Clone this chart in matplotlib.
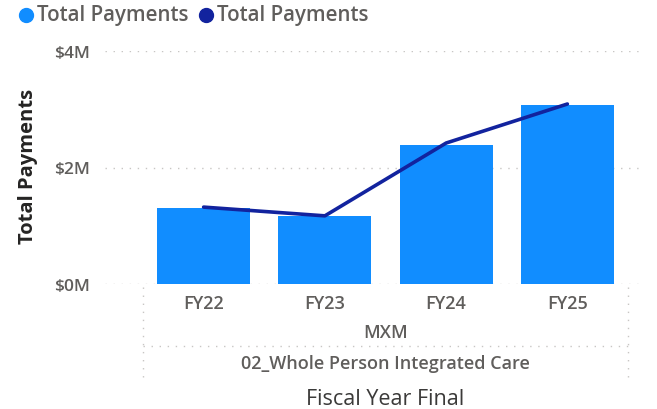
import matplotlib
matplotlib.use("Agg")
import matplotlib.pyplot as plt
from matplotlib.lines import Line2D
import matplotlib.transforms as mtransforms

# ---- data ----
categories = ["FY22", "FY23", "FY24", "FY25"]
bar_values = [1.30, 1.17, 2.38, 3.07]      # $M, Total Payments (bars)
line_values = [1.32, 1.17, 2.42, 3.09]     # $M, Total Payments (line)
y_ticks = [0, 2, 4]
y_tick_labels = ["$0M", "$2M", "$4M"]
level2_label = "MXM"
level3_label = "02_Whole Person Integrated Care"
x_title = "Fiscal Year Final"
y_title = "Total Payments"
legend_labels = ["Total Payments", "Total Payments"]

BAR_COLOR = "#118DFF"
LINE_COLOR = "#12239E"
TICK_COLOR = "#605E5C"
GRID_COLOR = "#C8C6C4"

plt.rcParams["font.family"] = ["Open Sans", "DejaVu Sans"]

W, H = 657, 410
fig = plt.figure(figsize=(W / 100, H / 100), dpi=100)

def fx(px):
    return px / W

def fy(py):
    return 1 - py / H

ax_left, ax_right, ax_top, ax_bottom = 105, 640, 52, 285
ax = fig.add_axes([fx(ax_left), fy(ax_bottom), fx(ax_right - ax_left), (ax_bottom - ax_top) / H])

x = list(range(len(categories)))
ax.bar(x, bar_values, width=0.767, color=BAR_COLOR, zorder=2)
ax.plot(x, line_values, color=LINE_COLOR, linewidth=2.6, solid_capstyle="round", zorder=3)

unit = 121.25
ax.set_xlim(-0.5 - (143 - ax_left) / unit, 3.5 + (ax_right - 628) / unit)
ax.set_ylim(0, 4)
ax.set_yticks(y_ticks)
ax.set_yticklabels(y_tick_labels, fontweight="semibold")
ax.tick_params(axis="y", length=0, pad=11, labelsize=12.5, labelcolor=TICK_COLOR)
ax.set_xticks([])
for s in ax.spines.values():
    s.set_visible(False)
ax.yaxis.grid(True, color=GRID_COLOR, linestyle=(0, (1, 4.8)), linewidth=1.0, zorder=0)
ax.set_axisbelow(True)

# hierarchy labels
trans = mtransforms.blended_transform_factory(ax.transData, ax.transAxes)
def ay(py):
    return (ax_bottom - py) / (ax_bottom - ax_top)

for xi, c in zip(x, categories):
    ax.text(xi, ay(309), c, transform=trans, ha="center", va="baseline",
            fontsize=13, fontweight="semibold", color=TICK_COLOR)
mid = 1.5
ax.text(mid, ay(338), level2_label, transform=trans, ha="center", va="baseline",
        fontsize=13, fontweight="semibold", color=TICK_COLOR)
ax.text(mid, ay(369), level3_label, transform=trans, ha="center", va="baseline",
        fontsize=13, fontweight="semibold", color=TICK_COLOR)
ax.text(mid, ay(405), x_title, transform=trans, ha="center", va="baseline",
        fontsize=15.5, color="#3B3A39")

dot = (0, (1, 4.8))
for xv in (-0.5, 3.5):
    ax.add_line(Line2D([xv, xv], [ay(288), ay(381)], transform=trans, color=GRID_COLOR,
                       linestyle=dot, linewidth=1.0, clip_on=False))
ax.add_line(Line2D([-0.5, 3.5], [ay(347), ay(347)], transform=trans, color=GRID_COLOR,
                   linestyle=dot, linewidth=1.0, clip_on=False))

# y title
fig.text(fx(28), fy(166), y_title, rotation=90, ha="center", va="center",
         fontsize=14.5, fontweight="bold", color="#252423")

# legend
for (mx, tx), col, lab in zip([(26, 37), (206, 217)], [BAR_COLOR, LINE_COLOR], legend_labels):
    fig.add_artist(Line2D([fx(mx)], [fy(16)], transform=fig.transFigure, marker="o",
                          markersize=10, color=col, linestyle="none"))
    fig.text(fx(tx), fy(16), lab, ha="left", va="center", fontsize=14.8,
             color=TICK_COLOR, fontweight="semibold")

fig.savefig("out.png", dpi=100)
